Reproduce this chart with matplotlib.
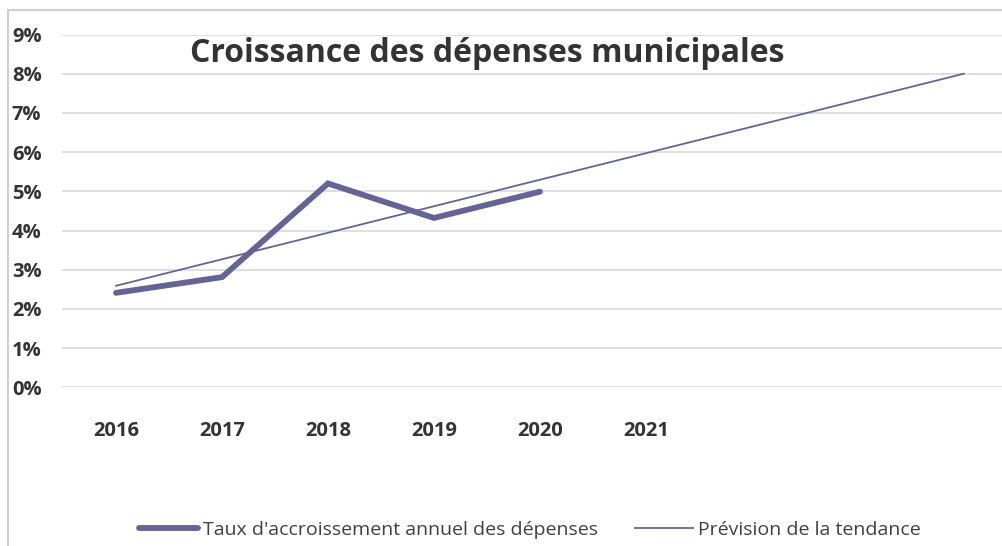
import matplotlib
matplotlib.use('Agg')
import matplotlib.pyplot as plt
from matplotlib.patches import Rectangle
from matplotlib.ticker import FuncFormatter

# donnees
annees = ['2016', '2017', '2018', '2019', '2020', '2021']
taux = [2.41, 2.81, 5.20, 4.32, 4.99]          # % par an
tendance_x = [0, 8]                              # 2016 -> 2024
tendance_y = [2.59, 8.0]
noms = ["Taux d'accroissement annuel des dépenses", "Prévision de la tendance"]

couleur = '#646497'
gris_texte = '#333333'

plt.rcParams['font.family'] = ['Open Sans', 'DejaVu Sans']

fig = plt.figure(figsize=(10.03, 5.46), dpi=100)
ax = fig.add_axes([62/1003, 1 - 387.3/546, 1 - 62/1003, (387.3 - 34.5)/546])

ax.plot(range(len(taux)), taux, color=couleur, lw=4.2, solid_capstyle='round',
        solid_joinstyle='miter', label=noms[0], zorder=3)
ax.plot(tendance_x, tendance_y, color=couleur, lw=1.3, label=noms[1], zorder=3)

ax.set_ylim(0, 9)
ax.set_yticks(range(0, 10))
ax.yaxis.set_major_formatter(FuncFormatter(lambda v, p: '%d%%' % v))
ax.set_xlim(-0.51, 8.37)
ax.set_xticks(range(len(annees)))
ax.set_xticklabels(annees)

ax.grid(axis='y', color='#d9d9d9', lw=1.2)
ax.set_axisbelow(True)
for s in ax.spines.values():
    s.set_visible(False)

ax.tick_params(axis='both', length=0, labelsize=14.5, labelcolor=gris_texte)
ax.tick_params(axis='x', pad=24)
ax.tick_params(axis='y', pad=36)
for t in ax.get_yticklabels():
    t.set_fontweight('bold')
    t.set_horizontalalignment('left')
for t in ax.get_xticklabels():
    t.set_fontweight('bold')

fig.text(190/1003, 1 - 54/546, 'Croissance des dépenses municipales', fontsize=23,
         fontweight='bold', color=gris_texte, ha='left', va='center')

leg = fig.legend(loc='center', bbox_to_anchor=(530/1003, 1 - 530/546), ncol=2,
                 frameon=False, fontsize=14, handlelength=3.0, handletextpad=0.25,
                 columnspacing=1.9)
for t in leg.get_texts():
    t.set_color('#404040')

# cadre du graphique
fig.patches.append(Rectangle((8/1003, -0.1), 1.2, 1 - 10/546 + 0.1,
                             transform=fig.transFigure, fill=False,
                             edgecolor='#d0d0d0', lw=1.5))

fig.savefig('out.png', dpi=100)
